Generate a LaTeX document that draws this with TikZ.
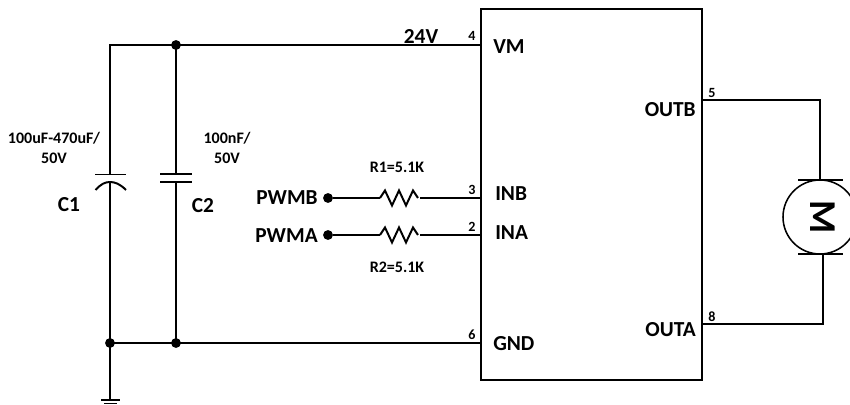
\documentclass[tikz,border=0pt]{standalone}
\usepackage{fontspec}
\setmainfont{Carlito}
\usetikzlibrary{calc}
\tikzstyle{wire}=[line width=1.4pt,draw=black]
\tikzstyle{plate}=[line width=1.4pt,draw=black]
\tikzstyle{joint}=[circle,fill=black,inner sep=0pt,minimum size=7pt]
\tikzstyle{pinname}=[font=\fontsize{15.2}{17}\selectfont\bfseries,inner sep=0pt]
\tikzstyle{pinnum}=[font=\fontsize{10}{12}\selectfont\bfseries,inner sep=0pt]
\tikzstyle{small}=[font=\fontsize{11.4}{14.2}\selectfont\bfseries,inner sep=0pt,align=center]
\newcommand{\zigzag}[2]{%
\draw[wire,line join=miter] (#1,#2) -- ++(5,-7.5) -- ++(7,15) -- ++(7,-15) -- ++(7,15) -- ++(7,-15) -- ++(5,7.5);}

\begin{document}
\begin{tikzpicture}[x=0.025cm,y=-0.025cm]
\useasboundingbox (0,0) rectangle (850,405);
\coordinate (VM) at (481,45);
\coordinate (GND) at (481,343);
\coordinate (INB) at (481,198);
\coordinate (INA) at (481,235);
\coordinate (OUTB) at (702,100);
\coordinate (OUTA) at (702,324);
\coordinate (TL) at (110,45);
\coordinate (TC) at (176,45);
\coordinate (BL) at (110,343);
\coordinate (BC) at (176,343);
\coordinate (EARTH) at (110,400);
\coordinate (MT) at (820,180);
\coordinate (MB) at (823,254);
%chip
\draw[wire] (481,9) rectangle (702,380);
%supply rails
\draw[wire] (VM)--(TL)--(110,174);
\draw[wire] (176,45)--(176,174);
\draw[wire] (GND)--(BL)--(110,182);
\draw[wire] (176,343)--(176,182);
\draw[wire] (BL)--(EARTH);
\node[joint] (J1) at (TC) {};
\node[joint] (J2) at (BL) {};
\node[joint] (J3) at (BC) {};
%C1
\draw[plate] (95,174.5)--(126,174.5);
\draw[plate] (95.5,190) .. controls (101,184) and (105,182) .. (110,182) .. controls (115,182) and (120,184) .. (126,190);
%C2
\draw[plate] (160,174)--(192,174);
\draw[plate] (160,182)--(192,182);
%earth
\draw[plate] (101,400)--(120,400);
\draw[plate,line width=0.9pt] (104,403.5)--(117,403.5);
%resistors
\node[joint] (PB) at (328,198) {};
\node[joint] (PA) at (328,235) {};
\draw[wire] (PB)--(380,198);
\draw[wire] (PA)--(380,235);
\zigzag{380}{198}
\zigzag{380}{235}
\draw[wire] (420,198)--(INB);
\draw[wire] (420,235)--(INA);
%motor
\draw[wire] (OUTB)--(820,100)--(MT);
\draw[wire] (OUTA)--(823,324)--(MB);
\draw[plate,line width=1.1pt] (798,180)--(843,180);
\draw[plate,line width=1.1pt] (798,254)--(843,254);
\draw[line width=1.1pt] (820,217) circle (37);
\node[font=\fontsize{27}{29}\selectfont\bfseries,rotate=-90,inner sep=0pt] (M) at (823,217) {M};
%labels
\node[pinname,anchor=west] (LVM) at (493,47) {VM};
\node[pinname,anchor=west] (LINB) at (495,194) {INB};
\node[pinname,anchor=west] (LINA) at (495,233) {INA};
\node[pinname,anchor=west] (LGND) at (493,344) {GND};
\node[pinname,anchor=east] (LOUTB) at (696,110) {OUTB};
\node[pinname,anchor=east] (LOUTA) at (696,330) {OUTA};
\node[pinname] (L24) at (421,36) {24V};
\node[pinname,anchor=east] (LPB) at (318,198) {PWMB};
\node[pinname,anchor=east] (LPA) at (318,236) {PWMA};
\node[pinname] (LC1) at (69,205) {C1};
\node[pinname] (LC2) at (203,206) {C2};
\node[pinnum] (N4) at (472,36) {4};
\node[pinnum] (N3) at (472,190) {3};
\node[pinnum] (N2) at (472,227) {2};
\node[pinnum] (N6) at (472,335) {6};
\node[pinnum] (N5) at (712,93) {5};
\node[pinnum] (N8) at (712,317) {8};
\node[small] (R1) at (397,167) {R1=5.1K};
\node[small] (R2) at (397,267) {R2=5.1K};
\node[small] (VC1) at (54,148) {100uF-470uF/\\50V};
\node[small] (VC2) at (227,148) {100nF/\\50V};
\end{tikzpicture}
\end{document}
